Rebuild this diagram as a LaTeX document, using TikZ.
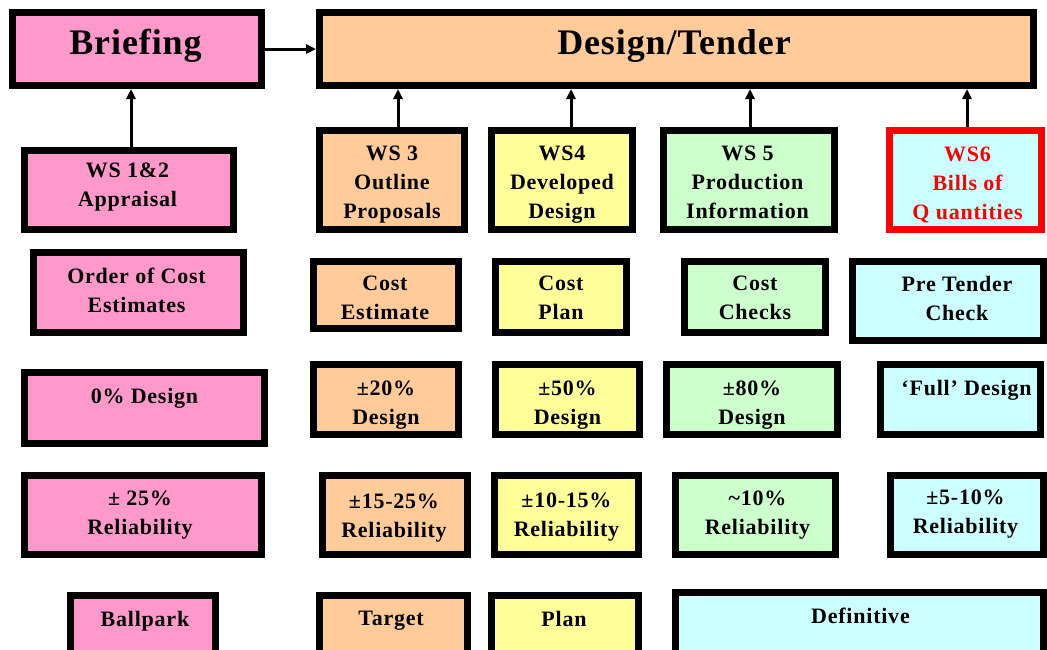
\documentclass[tikz,border=0pt]{standalone}
\usepackage{fontspec}
\setmainfont{Liberation Serif}
\newfontfamily\boxfont{Liberation Serif}[LetterSpace=3.5]
\newfontfamily\headfont{Liberation Serif}[LetterSpace=2.5]
\usetikzlibrary{arrows.meta}

\definecolor{stagepink}{HTML}{FF99CC}
\definecolor{stagepeach}{HTML}{FFCC99}
\definecolor{stageyellow}{HTML}{FFFF99}
\definecolor{stagegreen}{HTML}{CCFFCC}
\definecolor{stagecyan}{HTML}{CCFFFF}
\definecolor{stagered}{HTML}{FF0000}

\begin{document}
\begin{tikzpicture}[x=1pt, y=-1pt,
    box/.style={draw=black, line width=7pt, inner sep=0pt},
    txt/.style={font=\boxfont\bfseries\fontsize{22}{29}\selectfont, align=center, inner sep=0pt},
    head/.style={font=\headfont\bfseries\fontsize{36}{40}\selectfont, inner sep=0pt},
    link/.style={line width=3pt, -{Triangle[length=10pt, width=9pt]}}]
    \path[use as bounding box] (0,0) rectangle (1047,649);
    \clip (0,0) rectangle (1047,649);

    \node[box, fill=stagepink, minimum width=249, minimum height=73,
        label={[head, xshift=-1.5, yshift=3]center:Briefing}] (brief) at (137,49) {};
    \node[box, fill=stagepeach, minimum width=714, minimum height=73,
        label={[head, xshift=-2.5, yshift=3]center:Design/Tender}] (design) at (676.5,49) {};

    \node[box, fill=stagepink, minimum width=209, minimum height=79,
        label={[txt, xshift=-1.5, yshift=2.5]center:WS 1\&2\\Appraisal}] (ws12) at (129,190) {};
    \node[box, fill=stagepeach, minimum width=145, minimum height=99,
        label={[txt, yshift=-5]center:WS 3\\Outline\\Proposals}] (ws3) at (392,180) {};
    \node[box, fill=stageyellow, minimum width=141, minimum height=99,
        label={[txt, yshift=-5]center:WS4\\Developed\\Design}] (ws4) at (562,180) {};
    \node[box, fill=stagegreen, minimum width=171, minimum height=99,
        label={[txt, xshift=-1.5, yshift=-2.5]center:WS 5\\Production\\Information}] (ws5) at (749,180) {};
    \node[box, draw=stagered, fill=stagecyan, minimum width=152, minimum height=99,
        label={[txt, text=stagered, xshift=2, yshift=-4.5]center:WS6\\Bills of\\Q uantities}] (ws6) at (965.5,180) {};

    \node[box, fill=stagepink, minimum width=210, minimum height=80,
        label={[txt, xshift=-2, yshift=2]center:Order of Cost\\Estimates}] (estorder) at (138.5,292.5) {};
    \node[box, fill=stagepeach, minimum width=145, minimum height=67,
        label={[txt, xshift=-1, yshift=-3]center:Cost\\Estimate}] (estcost) at (386,295) {};
    \node[box, fill=stageyellow, minimum width=131, minimum height=71,
        label={[txt, yshift=-1]center:Cost\\Plan}] (estplan) at (561,297) {};
    \node[box, fill=stagegreen, minimum width=141, minimum height=71,
        label={[txt, yshift=-1]center:Cost\\Checks}] (estcheck) at (755,297) {};
    \node[box, fill=stagecyan, minimum width=191, minimum height=79,
        label={[txt, xshift=9, yshift=3]center:Pre Tender\\Check}] (estpre) at (948,301) {};

    \node[box, fill=stagepink, minimum width=240, minimum height=71,
        label={[txt, yshift=10]center:0\% Design}] (dsgzero) at (144.5,408) {};
    \node[box, fill=stagepeach, minimum width=145, minimum height=70,
        label={[txt, yshift=-5.5]center:±20\%\\Design}] (dsgtwenty) at (386,399.5) {};
    \node[box, fill=stageyellow, minimum width=144, minimum height=70,
        label={[txt, yshift=-5.5]center:±50\%\\Design}] (dsgfifty) at (567.5,399.5) {};
    \node[box, fill=stagegreen, minimum width=171, minimum height=70,
        label={[txt, yshift=-5.5]center:±80\%\\Design}] (dsgeighty) at (752,399.5) {};
    \node[box, fill=stagecyan, minimum width=160, minimum height=70,
        label={[txt, xshift=6, yshift=9.5]center:‘Full’ Design}] (dsgfull) at (960.5,399.5) {};

    \node[box, fill=stagepink, minimum width=237, minimum height=79,
        label={[txt, xshift=-3]center:± 25\%\\Reliability}] (relone) at (143,515) {};
    \node[box, fill=stagepeach, minimum width=145, minimum height=79,
        label={[txt, xshift=-1, yshift=-3]center:±15-25\%\\Reliability}] (reltwo) at (395,515) {};
    \node[box, fill=stageyellow, minimum width=144, minimum height=79,
        label={[txt, yshift=-2]center:±10-15\%\\Reliability}] (relthree) at (566.5,515) {};
    \node[box, fill=stagegreen, minimum width=160, minimum height=79,
        label={[txt, xshift=2]center:\textasciitilde10\%\\Reliability}] (relfour) at (755.5,515) {};
    \node[box, fill=stagecyan, minimum width=153, minimum height=79,
        label={[txt, xshift=-1.5, yshift=0.5]center:±5-10\%\\Reliability}] (relfive) at (967,515) {};

    \node[box, fill=stagepink, minimum width=145, minimum height=61,
        label={[txt, xshift=2, yshift=5]center:Ballpark}] (ball) at (143,626) {};
    \node[box, fill=stagepeach, minimum width=148, minimum height=61,
        label={[txt, xshift=-2.5, yshift=5]center:Target}] (target) at (393.5,626) {};
    \node[box, fill=stageyellow, minimum width=147, minimum height=61,
        label={[txt, xshift=-1, yshift=7]center:Plan}] (plan) at (565,626) {};
    \node[box, fill=stagecyan, minimum width=368, minimum height=64,
        label={[txt, xshift=1, yshift=8.5]center:Definitive}] (definitive) at (859.5,624.5) {};

    \draw[link] (brief) -- (design);
    \draw[link] ([xshift=2]ws12.north) -- ([xshift=2]ws12.north |- brief.south);
    \draw[link] ([xshift=6]ws3.north) -- ([xshift=6]ws3.north |- design.south);
    \draw[link] ([xshift=9]ws4.north) -- ([xshift=9]ws4.north |- design.south);
    \draw[link] ([xshift=1]ws5.north) -- ([xshift=1]ws5.north |- design.south);
    \draw[link] ([xshift=1.5]ws6.north) -- ([xshift=1.5]ws6.north |- design.south);
\end{tikzpicture}
\end{document}
